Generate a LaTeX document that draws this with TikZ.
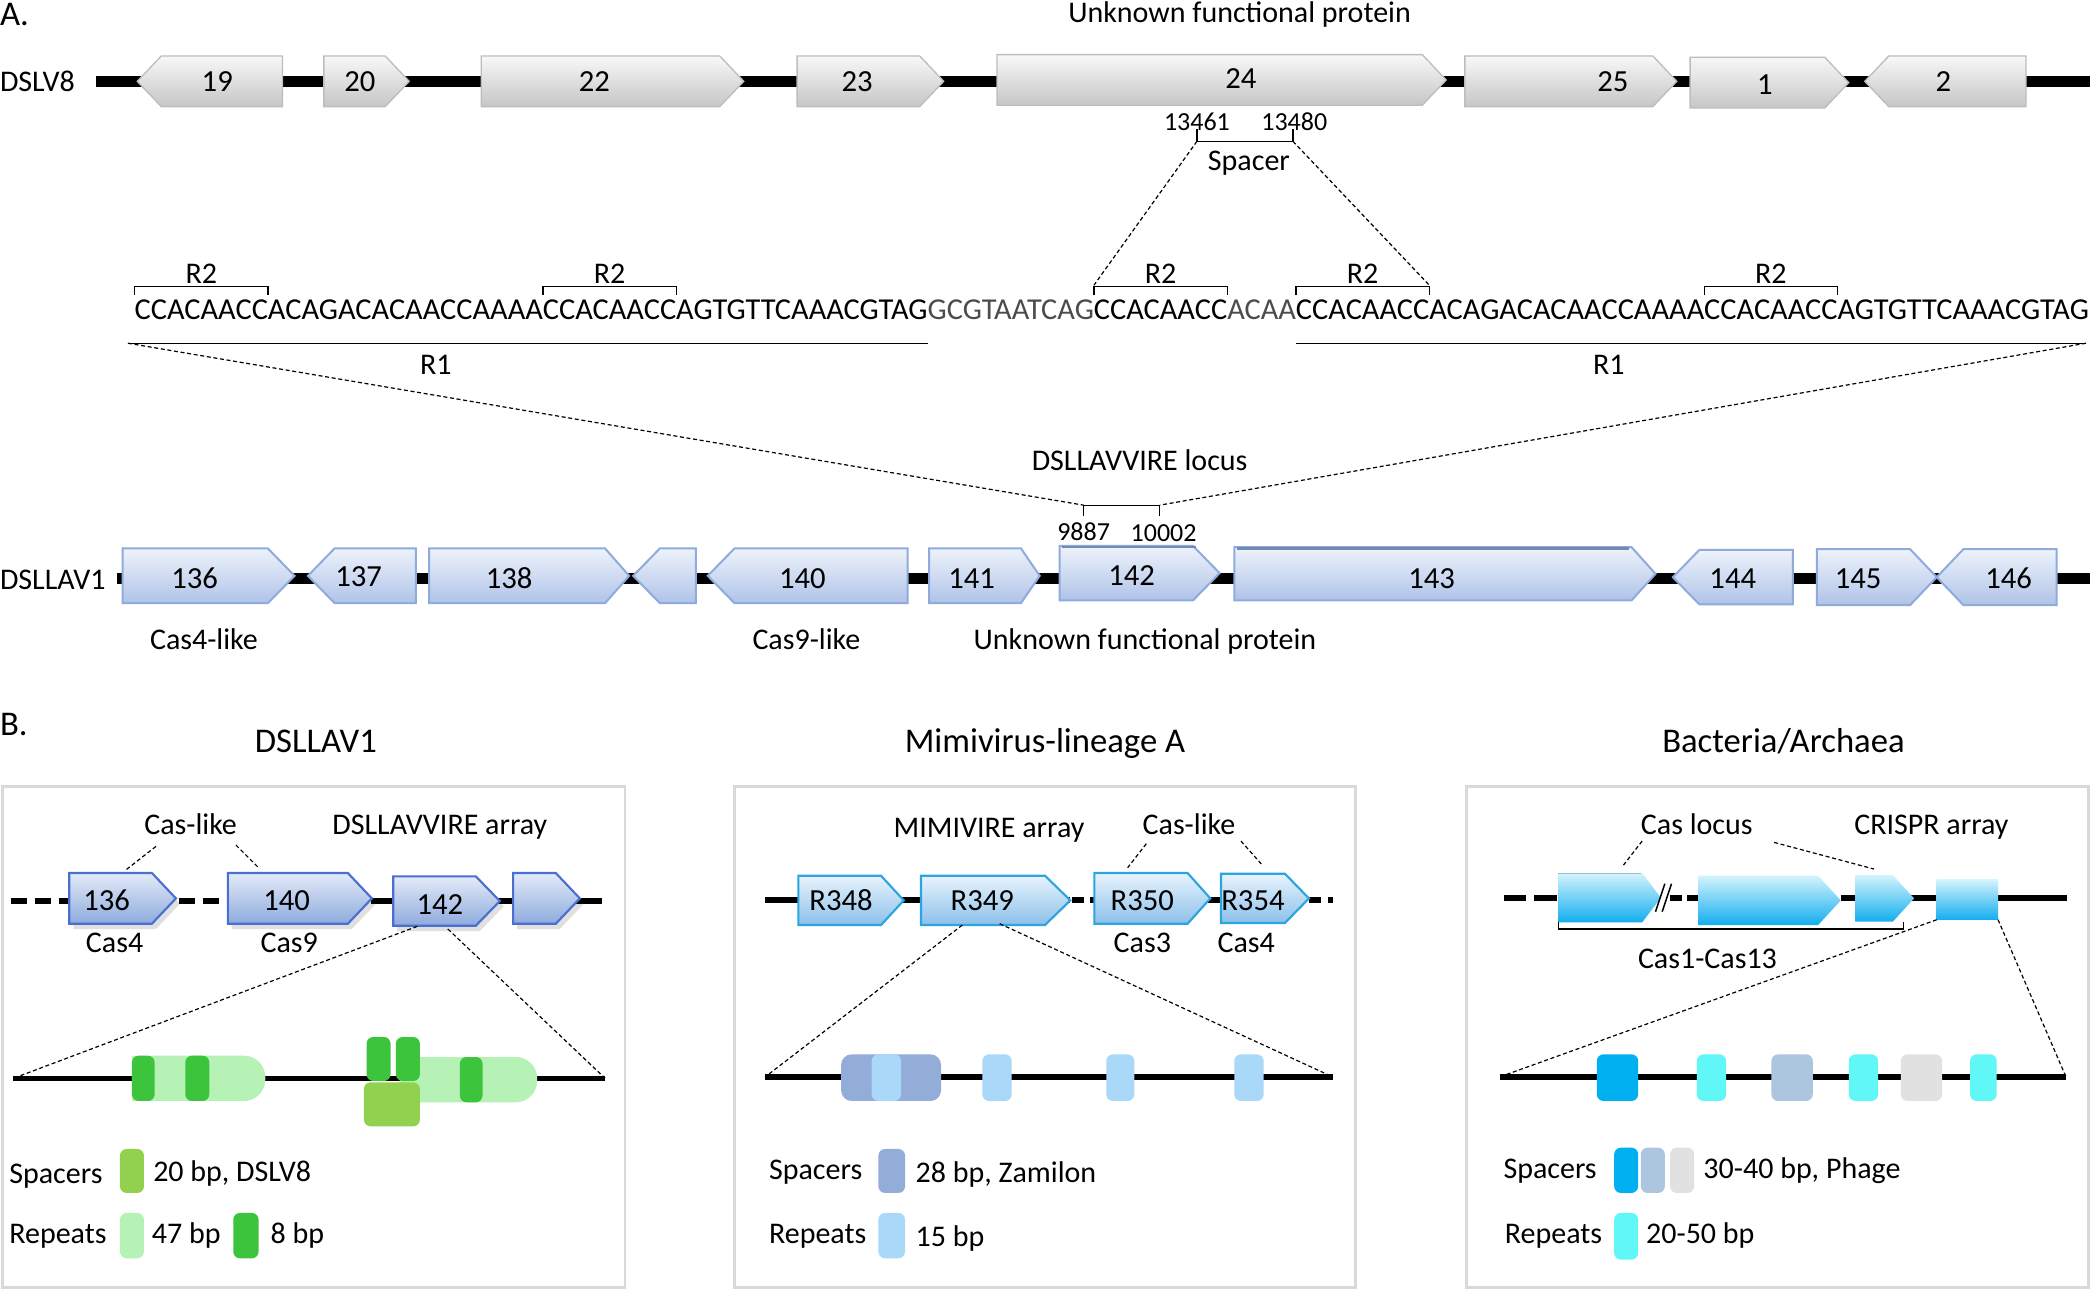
\documentclass[tikz,border=0pt]{standalone}
\usepackage{fontspec}
\setmainfont{Carlito}
\usetikzlibrary{backgrounds}
\definecolor{gA1}{HTML}{F8F8F8}
\definecolor{gA2}{HTML}{C6C6C6}
\definecolor{gAb}{HTML}{BDBDBD}
\definecolor{bA1}{HTML}{EEF3FB}
\definecolor{bA2}{HTML}{AFC3E8}
\definecolor{bAb}{HTML}{8FABDC}
\definecolor{bB11}{HTML}{E3EBF8}
\definecolor{bB12}{HTML}{8EAADD}
\definecolor{bB1b}{HTML}{4A6FD0}
\definecolor{bB21}{HTML}{E8F4FD}
\definecolor{bB22}{HTML}{8CC0EA}
\definecolor{bB2b}{HTML}{2AA5E0}
\definecolor{bB31}{HTML}{D4F3FD}
\definecolor{bB32}{HTML}{12AEEE}
\definecolor{lgreen}{HTML}{B6F2B6}
\definecolor{dgreen}{HTML}{3CC43C}
\definecolor{olv}{HTML}{92D050}
\definecolor{spB}{HTML}{94ACD8}
\definecolor{rpB}{HTML}{AAD8F8}
\definecolor{spCa}{HTML}{00B0F0}
\definecolor{spCb}{HTML}{ADC6DF}
\definecolor{spCc}{HTML}{E1E1E1}
\definecolor{rpC}{HTML}{62F7F7}
\definecolor{shadeg}{HTML}{DADADA}
\newcommand{\GeneR}[6]{\path[#6] (#1,#3-#4) -- (#2-#5,#3-#4) -- (#2,#3) -- (#2-#5,#3+#4) -- (#1,#3+#4) -- cycle;}
\newcommand{\GeneL}[6]{\path[#6] (#1,#3) -- (#1+#5,#3-#4) -- (#2,#3-#4) -- (#2,#3+#4) -- (#1+#5,#3+#4) -- cycle;}
\newcommand{\RTwo}[2]{\draw[brk] (#1.west |- yRt) -- (#1.west |- yRb) -- (#1.east |- yRb) -- (#1.east |- yRt);
  \node[txt] (#2) at (#1.center |- yRl) {R2};}
\tikzset{
  txt/.style={inner sep=0pt, outer sep=0pt, font=\fontsize{22.5}{27}\selectfont, text height=16.5pt, text depth=2pt},
  num/.style={inner sep=0pt, outer sep=0pt, font=\fontsize{19.5}{23}\selectfont, text height=14pt, text depth=1.5pt},
  ttl/.style={inner sep=0pt, outer sep=0pt, font=\fontsize{26}{31}\selectfont, text height=19pt, text depth=2pt},
  glab/.style={txt, font=\fontsize{23}{27}\selectfont},
  seqt/.style={inner sep=0pt, outer sep=0pt, anchor=base west, font=\fontsize{22.8}{27}\selectfont},
  seql/.style={seqt, text=black!70},
  backbone/.style={line width=8pt},
  gline/.style={line width=4.5pt},
  aline/.style={line width=4pt},
  brk/.style={line width=1pt},
  zoomln/.style={line width=0.9pt, dash pattern=on 3pt off 2pt},
  panel/.style={draw=black!15, line width=2pt},
  geneA/.style={top color=gA1, bottom color=gA2, draw=gAb, line width=1pt},
  geneAb/.style={top color=bA1, bottom color=bA2, draw=bAb, line width=1.5pt},
  geneB1/.style={top color=bB11, bottom color=bB12, draw=bB1b, line width=1.6pt},
  geneB2/.style={top color=bB21, bottom color=bB22, draw=bB2b, line width=1.6pt},
  geneB3/.style={top color=bB31, bottom color=bB32},
  gshadow/.style={fill=black, fill opacity=0.12, xshift=3pt, yshift=-4pt},
  elem/.style={rounded corners=5pt},
}
\begin{document}
\begin{tikzpicture}[x=1pt,y=-1pt]
\useasboundingbox (0,0) rectangle (1568,968);
\fill[white] (0,0) rectangle (1568,968);
% ---------------- Part A ----------------
\node[ttl, anchor=west] (lblA) at (0,11) {A.};
\node[txt] (unk1) at (930,10) {Unknown functional protein};
\node[txt, anchor=west] (dslv8) at (0,61.5) {DSLV8};
\coordinate (bb1s) at (72,61);
\coordinate (bb1e) at (1568,61);
\draw[backbone] (bb1s) -- (bb1e);
\GeneL{103}{212}{61}{19}{18}{geneA}
\GeneR{243}{307}{61}{19}{18}{geneA}
\GeneR{361}{558}{61}{19}{18}{geneA}
\GeneR{598}{708}{61}{19}{18}{geneA}
\GeneR{748}{1085}{60}{19}{18}{geneA}
\GeneR{1099}{1258}{61}{19}{18}{geneA}
\GeneR{1268}{1387}{62}{19}{18}{geneA}
\GeneL{1399}{1520}{61}{19}{18}{geneA}
\node[glab] (g19) at (163,61.5) {19};
\node[glab] (g20) at (270,61.5) {20};
\node[glab] (g22) at (446,61.5) {22};
\node[glab] (g23) at (643,61.5) {23};
\node[glab] (g24) at (931,59.5) {24};
\node[glab] (g25) at (1210,61.5) {25};
\node[glab] (g1) at (1324,63.5) {1};
\node[glab] (g2) at (1458,61.5) {2};
% spacer bracket
\node[num] (n13461) at (898,92) {13461};
\node[num] (n13480) at (971,92) {13480};
\coordinate (spL) at (898,106);
\coordinate (spR) at (970,106);
\draw[brk] (898,97) -- (spL) -- (spR) -- (970,97);
\node[txt] (spacer) at (937,120.5) {Spacer};
% sequence
\coordinate (yRt) at (0,221);
\coordinate (yRb) at (0,215);
\coordinate (yRl) at (0,205.5);
\coordinate (yGt) at (0,214);
\coordinate (yGb) at (0,249);
\coordinate (yR1) at (0,257.5);
\node[seqt] (s1a) at (101,240) {CCACAACC};
\node[seqt] (s1b) at (s1a.base east) {ACAGACACAACCAAAA};
\node[seqt] (s1c) at (s1b.base east) {CCACAACC};
\node[seqt] (s1d) at (s1c.base east) {AGTGTTCAAACGTAG};
\node[seql] (s2) at (s1d.base east) {GCGTAATCAG};
\node[seqt] (s3) at (s2.base east) {CCACAACC};
\node[seql] (s4) at (s3.base east) {ACAA};
\node[seqt] (s5) at (s4.base east) {CCACAACC};
\node[seqt] (s6a) at (s5.base east) {ACAGACACAACCAAAA};
\node[seqt] (s6b) at (s6a.base east) {CCACAACC};
\node[seqt] (s6c) at (s6b.base east) {AGTGTTCAAACGTAG};
\begin{scope}[on background layer]
\fill[shadeg] (s3.west |- yGt) rectangle (s5.east |- yGb);
\end{scope}
\RTwo{s1a}{r2a}
\RTwo{s1c}{r2b}
\RTwo{s3}{r2c}
\RTwo{s5}{r2d}
\RTwo{s6b}{r2e}
\coordinate (r1Ls) at (96,257.5);
\coordinate (r1Re) at (1565,257.5);
\draw[brk] (r1Ls) -- (s1d.east |- yR1);
\draw[brk] (s5.west |- yR1) -- (r1Re);
\node[txt] (r1a) at (327,274) {R1};
\node[txt] (r1b) at (1207,274) {R1};
\draw[zoomln] (spL) -- (s3.west |- yGt);
\draw[zoomln] (spR) -- (s5.east |- yGt);
% locus
\node[txt] (locus) at (855,346) {DSLLAVVIRE locus};
\coordinate (locL) at (813,379);
\coordinate (locR) at (870,379);
\draw[brk] (813,387) -- (locL) -- (locR) -- (870,387);
\node[num] (n9887) at (813,399) {9887};
\node[num] (n10002) at (873,400) {10002};
\draw[zoomln] (r1Ls) -- (locL);
\draw[zoomln] (r1Re) -- (locR);
% DSLLAV1 track
\node[txt, anchor=west] (dsllav1) at (0,435) {DSLLAV1};
\coordinate (bb2s) at (88,434);
\coordinate (bb2e) at (1568,434);
\draw[backbone] (bb2s) -- (bb2e);
\GeneR{92}{221}{432}{20.5}{20}{geneAb}
\GeneL{231}{312}{432}{20.5}{20}{geneAb}
\GeneR{322}{472}{432}{20.5}{18}{geneAb}
\GeneL{475}{522}{432}{20.5}{20}{geneAb}
\GeneL{531}{681}{432}{20.5}{20}{geneAb}
\GeneR{697}{780}{432}{20.5}{14}{geneAb}
\GeneR{795}{915}{430}{20.5}{20}{geneAb}
\GeneR{926}{1242}{430.5}{20}{18}{geneAb}
\GeneL{1255}{1345}{433}{20.5}{20}{geneAb}
\GeneR{1363}{1453}{433}{21}{20}{geneAb}
\GeneL{1453}{1543}{433}{21}{20}{geneAb}
\draw[bAb!80!black, line width=1.6pt] (797,410.5) -- (897,410.5);
\draw[bAb!80!black, line width=1.6pt] (928,411.5) -- (1222,411.5);
\node[glab] (g136) at (146,434) {136};
\node[glab] (g137) at (269,433) {137};
\node[glab] (g138) at (382,434) {138};
\node[glab] (g140) at (602,434) {140};
\node[glab] (g141) at (729,434) {141};
\node[glab] (g142) at (849,432) {142};
\node[glab] (g143) at (1074,434) {143};
\node[glab] (g144) at (1300,434) {144};
\node[glab] (g145) at (1394,434) {145};
\node[glab] (g146) at (1507,434) {146};
\node[txt] (cas4l) at (153,480) {Cas4-like};
\node[txt] (cas9l) at (605,480) {Cas9-like};
\node[txt] (unk2) at (859,480) {Unknown functional protein};
% ---------------- Part B ----------------
\node[ttl, anchor=west] (lblB) at (0,543) {B.};
\node[ttl] (t1) at (237,556) {DSLLAV1};
\node[ttl] (t2) at (784,556) {Mimivirus-lineage A};
\node[ttl] (t3) at (1338,556) {Bacteria/Archaea};
\draw[panel] (2,590) rectangle (469,966);
\draw[panel] (551,590) rectangle (1017,966);
\draw[panel] (1100,590) rectangle (1567,966);
% panel 1
\node[txt] (caslike1) at (143,619) {Cas-like};
\node[txt] (arr1) at (330,619) {DSLLAVVIRE array};
\draw[gline, dash pattern=on 12pt off 6pt] (8,676) -- (52,676);
\draw[gline, dash pattern=on 12pt off 6pt] (134,676) -- (171,676);
\draw[gline] (278,676) -- (452,676);
\GeneR{52}{132}{674}{19}{18}{gshadow}
\GeneR{171}{279}{674}{19}{18}{gshadow}
\GeneR{295}{375}{676}{18.5}{18}{gshadow}
\GeneR{385}{435}{674}{19}{18}{gshadow}
\GeneR{52}{132}{674}{19}{18}{geneB1}
\GeneR{171}{279}{674}{19}{18}{geneB1}
\GeneR{295}{375}{676}{18.5}{18}{geneB1}
\GeneR{385}{435}{674}{19}{18}{geneB1}
\node[glab] (b136) at (80,676) {136};
\node[glab] (b140) at (215,676) {140};
\node[glab] (b142) at (330,679) {142};
\node[txt] (bcas4) at (86,707) {Cas4};
\node[txt] (bcas9) at (217,707) {Cas9};
\draw[zoomln] (117,635) -- (94,653);
\draw[zoomln] (177,634) -- (194,651);
\coordinate (e1a) at (313,695);
\coordinate (e1b) at (336,697);
\coordinate (a1s) at (10,809);
\coordinate (a1e) at (454,809);
\draw[aline] (a1s) -- (a1e);
\draw[zoomln] (e1a) -- (a1s);
\draw[zoomln] (e1b) -- (a1e);
\fill[lgreen, rounded corners=16pt] (99,792) rectangle (199,826);
\fill[lgreen] (99,792) rectangle (160,826);
\fill[dgreen, elem] (99,792) rectangle (116,826);
\fill[dgreen, elem] (139,792) rectangle (157,826);
\fill[lgreen, rounded corners=16pt] (300,793) rectangle (403,827);
\fill[lgreen] (300,793) rectangle (360,827);
\fill[dgreen, elem] (345,793) rectangle (362,827);
\fill[dgreen, elem] (275,778) rectangle (293,811);
\fill[dgreen, elem] (297,778) rectangle (315,811);
\fill[olv, elem] (273,812) rectangle (315,845);
\node[txt, anchor=west] (sp1) at (7,881) {Spacers};
\fill[olv, elem] (90,862) rectangle (108,895);
\node[txt, anchor=west] (sp1t) at (115,879) {20 bp, DSLV8};
\node[txt, anchor=west] (rp1) at (7,926) {Repeats};
\fill[lgreen, elem] (90,910) rectangle (108,944);
\node[txt, anchor=west] (rp1t) at (114,926) {47 bp};
\fill[dgreen, elem] (175,910) rectangle (194,944);
\node[txt, anchor=west] (rp1u) at (203,926) {8 bp};
% panel 2
\node[txt] (arr2) at (742,621) {MIMIVIRE array};
\node[txt] (caslike2) at (892,619) {Cas-like};
\draw[gline] (574,675) -- (803,675);
\draw[gline, dash pattern=on 9pt off 5pt] (804,675) -- (821,675);
\draw[gline] (905,675) -- (918,675);
\draw[gline, dash pattern=on 9pt off 5pt] (982,675) -- (1000,675);
\GeneR{599}{678}{675.5}{18.5}{17}{geneB2}
\GeneR{691}{803}{675.5}{18.5}{19}{geneB2}
\GeneR{821}{908}{674}{19}{17}{geneB2}
\GeneR{916}{982}{674}{18.5}{18}{geneB2}
\node[glab] (r348) at (631,676) {R348};
\node[glab] (r349) at (737,676) {R349};
\node[glab] (r350) at (857,676) {R350};
\node[glab] (r354) at (940,676) {R354};
\node[txt] (bcas3) at (857,707) {Cas3};
\node[txt] (bcas4b) at (935,707) {Cas4};
\draw[zoomln] (860,633) -- (846,651);
\draw[zoomln] (931,631) -- (947,649);
\coordinate (e2a) at (722,694);
\coordinate (e2b) at (750,693);
\coordinate (a2s) at (574,808);
\coordinate (a2e) at (1000,808);
\draw[aline] (a2s) -- (a2e);
\draw[zoomln] (e2a) -- (a2s);
\draw[zoomln] (e2b) -- (a2e);
\fill[spB, rounded corners=8pt] (631,791) rectangle (706,826);
\fill[rpB, elem] (654,791) rectangle (676,826);
\fill[rpB, elem] (737,791) rectangle (759,826);
\fill[rpB, elem] (830,791) rectangle (851,826);
\fill[rpB, elem] (926,791) rectangle (948,826);
\node[txt, anchor=west] (sp2) at (577,878) {Spacers};
\fill[spB, elem] (659,862) rectangle (679,895);
\node[txt, anchor=west] (sp2t) at (687,880) {28 bp, Zamilon};
\node[txt, anchor=west] (rp2) at (577,926) {Repeats};
\fill[rpB, elem] (659,910) rectangle (679,944);
\node[txt, anchor=west] (rp2t) at (687,928) {15 bp};
% panel 3
\node[txt] (caslocus) at (1273,619) {Cas locus};
\node[txt] (crispr) at (1449,619) {CRISPR array};
\draw[gline, dash pattern=on 17pt off 6pt] (1128,674) -- (1169,674);
\draw[gline, dash pattern=on 9pt off 4pt] (1253,674) -- (1274,674);
\draw[gline] (1381,674) -- (1551,674);
\GeneR{1169}{1246}{673.5}{18.5}{14}{geneB3}
\GeneR{1274}{1381}{675.5}{18.5}{17}{geneB3}
\GeneR{1392}{1436}{674}{17.5}{16}{geneB3}
\draw[bB32!40!gray!60, line width=0.8pt] (1169,655) -- (1231,655);
\shade[top color=bB31, bottom color=bB32] (1453,660) rectangle (1499,690);
\draw[line width=1.1pt] (1242,684) -- (1249,663);
\draw[line width=1.1pt] (1247,684) -- (1254,663);
\draw[brk] (1169,692) -- (1169,697) -- (1428,697) -- (1428,692);
\node[txt] (cas113) at (1281,719) {Cas1-Cas13};
\draw[zoomln] (1232,631) -- (1218,649);
\draw[zoomln] (1331,632) -- (1406,652);
\coordinate (e3a) at (1453,690);
\coordinate (e3b) at (1499,690);
\coordinate (a3s) at (1125,808);
\coordinate (a3e) at (1550,808);
\draw[aline] (a3s) -- (a3e);
\draw[zoomln] (e3a) -- (a3s);
\draw[zoomln] (e3b) -- (a3e);
\fill[spCa, elem] (1198,791) rectangle (1229,826);
\fill[rpC, elem] (1273,791) rectangle (1295,826);
\fill[spCb, elem] (1329,791) rectangle (1360,826);
\fill[rpC, elem] (1387,791) rectangle (1409,826);
\fill[spCc, elem] (1426,791) rectangle (1457,826);
\fill[rpC, elem] (1478,791) rectangle (1498,826);
\node[txt, anchor=west] (sp3) at (1128,877) {Spacers};
\fill[spCa, elem] (1211,861) rectangle (1229,895);
\fill[spCb, elem] (1231,861) rectangle (1249,895);
\fill[spCc, elem] (1253,861) rectangle (1271,895);
\node[txt, anchor=west] (sp3t) at (1278,877) {30-40 bp, Phage};
\node[txt, anchor=west] (rp3) at (1129,926) {Repeats};
\fill[rpC, elem] (1211,910) rectangle (1229,945);
\node[txt, anchor=west] (rp3t) at (1235,926) {20-50 bp};
\end{tikzpicture}
\end{document}
